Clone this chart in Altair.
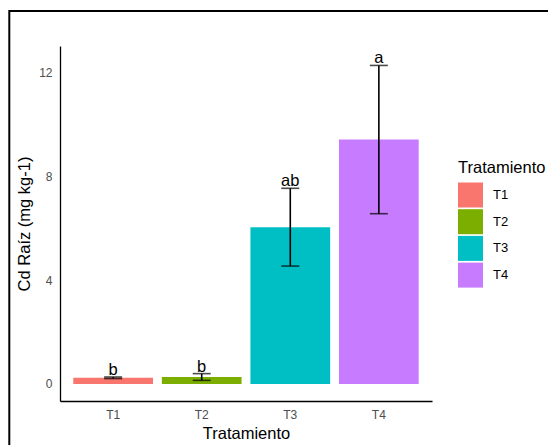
import altair as alt
import pandas as pd

tratamientos = ["T1", "T2", "T3", "T4"]
medias = [0.24, 0.27, 6.05, 9.43]
desv = [0.03, 0.13, 1.50, 2.86]
letras = ["b", "b", "ab", "a"]
colores = ["#F8766D", "#7CAE00", "#00BFC4", "#C77CFF"]

df = pd.DataFrame({
    "Tratamiento": tratamientos,
    "media": medias,
    "lo": [m - s for m, s in zip(medias, desv)],
    "hi": [m + s for m, s in zip(medias, desv)],
    "letra": letras,
})

FONT = "Liberation Sans"

xenc = alt.X(
    "Tratamiento:N",
    sort=tratamientos,
    scale=alt.Scale(paddingInner=0.1, paddingOuter=0.15),
    axis=alt.Axis(
        title="Tratamiento", labelAngle=0, ticks=False, labelPadding=8,
        labelColor="#4d4d4d", labelFontSize=12, titleFontSize=16.5,
        titleFontWeight="normal", titleColor="black", titlePadding=5,
        domainColor="black", domainWidth=1.3, grid=False, labelFont=FONT, titleFont=FONT,
    ),
)
yscale = alt.Scale(domain=[-0.656, 13.04], nice=False, zero=False)
yaxis = alt.Axis(
    title="Cd Raíz (mg kg-1)", values=[0, 4, 8, 12], ticks=False, labelPadding=8,
    labelColor="#4d4d4d", labelFontSize=12, titleFontSize=16.5,
    titleFontWeight="normal", titleColor="black", titlePadding=6,
    domainColor="black", domainWidth=1.3, grid=False, labelFont=FONT, titleFont=FONT,
)

base = alt.Chart(df)

bars = base.mark_bar(strokeWidth=0).encode(
    x=xenc,
    y=alt.Y("media:Q", scale=yscale, axis=yaxis),
    y2=alt.datum(0),
    color=alt.Color(
        "Tratamiento:N",
        scale=alt.Scale(domain=tratamientos, range=colores),
        legend=alt.Legend(
            title="Tratamiento", orient="none", legendX=398, legendY=114,
            symbolType="square", symbolSize=625, symbolStrokeWidth=0,
            titleFontSize=16.5, titleFontWeight="normal", titleColor="black",
            labelFontSize=13, labelColor="black", labelOffset=10,
            rowPadding=1.7, titlePadding=6, padding=0, titleFont=FONT, labelFont=FONT,
        ),
    ),
)

rule = base.mark_rule(color="black", strokeWidth=1.6).encode(
    x=alt.X("Tratamiento:N", sort=tratamientos),
    y=alt.Y("lo:Q", scale=yscale),
    y2="hi:Q",
)
cap_hi = base.mark_tick(color="black", thickness=1.6, size=18, orient="horizontal").encode(
    x=alt.X("Tratamiento:N", sort=tratamientos),
    y=alt.Y("hi:Q", scale=yscale),
)
cap_lo = base.mark_tick(color="black", thickness=1.6, size=18, orient="horizontal").encode(
    x=alt.X("Tratamiento:N", sort=tratamientos),
    y=alt.Y("lo:Q", scale=yscale),
)
text = base.mark_text(baseline="alphabetic", fontSize=16.5, font=FONT, color="black", dy=-2).encode(
    x=alt.X("Tratamiento:N", sort=tratamientos),
    y=alt.Y("hi:Q", scale=yscale),
    text="letra:N",
)

frame = alt.Chart(pd.DataFrame({"k": [0]})).mark_rect(
    fill=None, stroke="black", strokeWidth=2, clip=False
).encode(
    x=alt.value(-50.7), x2=alt.value(600), y=alt.value(-35), y2=alt.value(500)
)

chart = alt.layer(bars, rule, cap_hi, cap_lo, text, frame).properties(
    width=372, height=355,
    background="white",
    autosize=alt.AutoSizeParams(type="none"),
    padding={"left": 52, "top": 38, "right": 116, "bottom": 44},
).configure_view(strokeWidth=0, stroke="transparent")

chart.save("out.html", embed_options={"renderer": "svg", "actions": False})
